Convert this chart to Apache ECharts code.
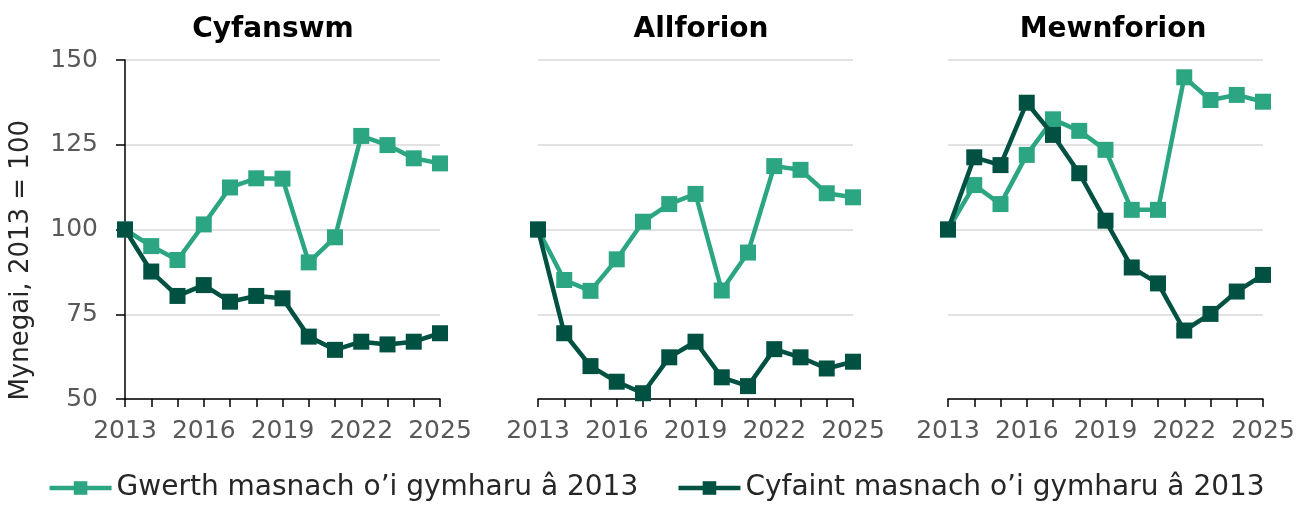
<!DOCTYPE html>
<html>
<head>
<meta charset="utf-8">
<script src="https://cdn.jsdelivr.net/npm/echarts@6/dist/echarts.min.js"></script>
<style>
  html, body { margin: 0; padding: 0; background: #fff; }
  #main { width: 1312px; height: 507px; }
</style>
</head>
<body>
<div id="main"></div>
<script>
// blynyddoedd
var years = ['2013','2014','2015','2016','2017','2018','2019','2020','2021','2022','2023','2024','2025'];
var panelTitles = ['Cyfanswm', 'Allforion', 'Mewnforion'];
var seriesNames = ['Gwerth masnach o\u2019i gymharu \u00e2 2013', 'Cyfaint masnach o\u2019i gymharu \u00e2 2013'];
var yTicks = [50, 75, 100, 125, 150];

// Cyfanswm
var gwerthCyfanswm = [100, 95.1, 91.0, 101.5, 112.4, 115.1, 115.0, 90.3, 97.7, 127.6, 124.9, 121.0, 119.5];
var cyfaintCyfanswm = [100, 87.6, 80.4, 83.6, 78.7, 80.4, 79.7, 68.4, 64.5, 66.9, 66.1, 66.9, 69.4];
// Allforion
var gwerthAllforion = [100, 85.1, 81.9, 91.2, 102.3, 107.5, 110.5, 82.0, 93.2, 118.7, 117.6, 110.7, 109.5];
var cyfaintAllforion = [100, 69.4, 59.7, 55.1, 51.7, 62.3, 66.9, 56.4, 53.8, 64.7, 62.3, 59.0, 61.0];
// Mewnforion
var gwerthMewnforion = [100, 113.1, 107.5, 122.0, 132.5, 129.1, 123.5, 105.8, 105.8, 144.9, 138.2, 139.7, 137.7];
var cyfaintMewnforion = [100, 121.3, 119.0, 137.4, 127.9, 116.6, 102.6, 88.8, 84.1, 70.2, 75.1, 81.7, 86.6];

var gwerthData = [gwerthCyfanswm, gwerthAllforion, gwerthMewnforion];
var cyfaintData = [cyfaintCyfanswm, cyfaintAllforion, cyfaintMewnforion];

var colGwerth = '#2ca682';
var colCyfaint = '#005142';
var fontFam = '"DejaVu Sans", "Noto Sans", sans-serif';

var gridLeft = [125, 538, 948];
var gridW = 315;
var titleX = [268, 696, 1108];

var chart = echarts.init(document.getElementById('main'));

var grids = [], xAxes = [], yAxes = [], series = [], titles = [];
for (var i = 0; i < 3; i++) {
  grids.push({ left: gridLeft[i], top: 60, width: gridW, height: 339 });
  titles.push({
    text: panelTitles[i], left: titleX[i], top: 11, textAlign: 'center',
    textStyle: { fontFamily: fontFam, fontWeight: 'bold', fontSize: 28, color: '#000' }
  });
  xAxes.push({
    type: 'category', gridIndex: i, data: years, boundaryGap: false,
    axisLine: { lineStyle: { color: '#000', width: 1.5 } },
    axisTick: { show: true, interval: 0, length: 8, lineStyle: { color: '#000', width: 1.5 } },
    axisLabel: { interval: 2, color: '#595959', fontSize: 25, fontFamily: fontFam, margin: 20 },
    splitLine: { show: false }
  });
  yAxes.push({
    type: 'value', gridIndex: i, min: 50, max: 150, interval: 25,
    axisLine: { show: i === 0, lineStyle: { color: '#000', width: 1.5 } },
    axisTick: { show: i === 0, length: 9, lineStyle: { color: '#000', width: 1.5 } },
    axisLabel: { show: i === 0, color: '#595959', fontSize: 25, fontFamily: fontFam, margin: 27 },
    splitLine: { show: true, lineStyle: { color: '#d9d9d9', width: 1.5 } }
  });
  series.push({
    name: seriesNames[0], type: 'line', xAxisIndex: i, yAxisIndex: i,
    data: gwerthData[i], symbol: 'rect', symbolSize: 16,
    lineStyle: { color: colGwerth, width: 4.5 }, itemStyle: { color: colGwerth },
    z: 2
  });
  series.push({
    name: seriesNames[1], type: 'line', xAxisIndex: i, yAxisIndex: i,
    data: cyfaintData[i], symbol: 'rect', symbolSize: 16,
    lineStyle: { color: colCyfaint, width: 4.5 }, itemStyle: { color: colCyfaint },
    z: 3
  });
}

var option = {
  animation: false,
  backgroundColor: '#fff',
  title: titles,
  grid: grids,
  xAxis: xAxes,
  yAxis: yAxes,
  series: series,
  legend: {
    data: seriesNames, bottom: 0, left: 'center', itemGap: 38,
    itemWidth: 62, itemHeight: 17,
    lineStyle: { width: 4.5 },
    textStyle: { fontFamily: fontFam, fontSize: 28, color: '#262626' }
  },
  graphic: [{
    type: 'text', left: 8, top: 120, rotation: Math.PI / 2,
    style: { text: 'Mynegai, 2013 = 100', font: '26px ' + fontFam, fill: '#262626' }
  }]
};
chart.setOption(option);
</script>
</body>
</html>
